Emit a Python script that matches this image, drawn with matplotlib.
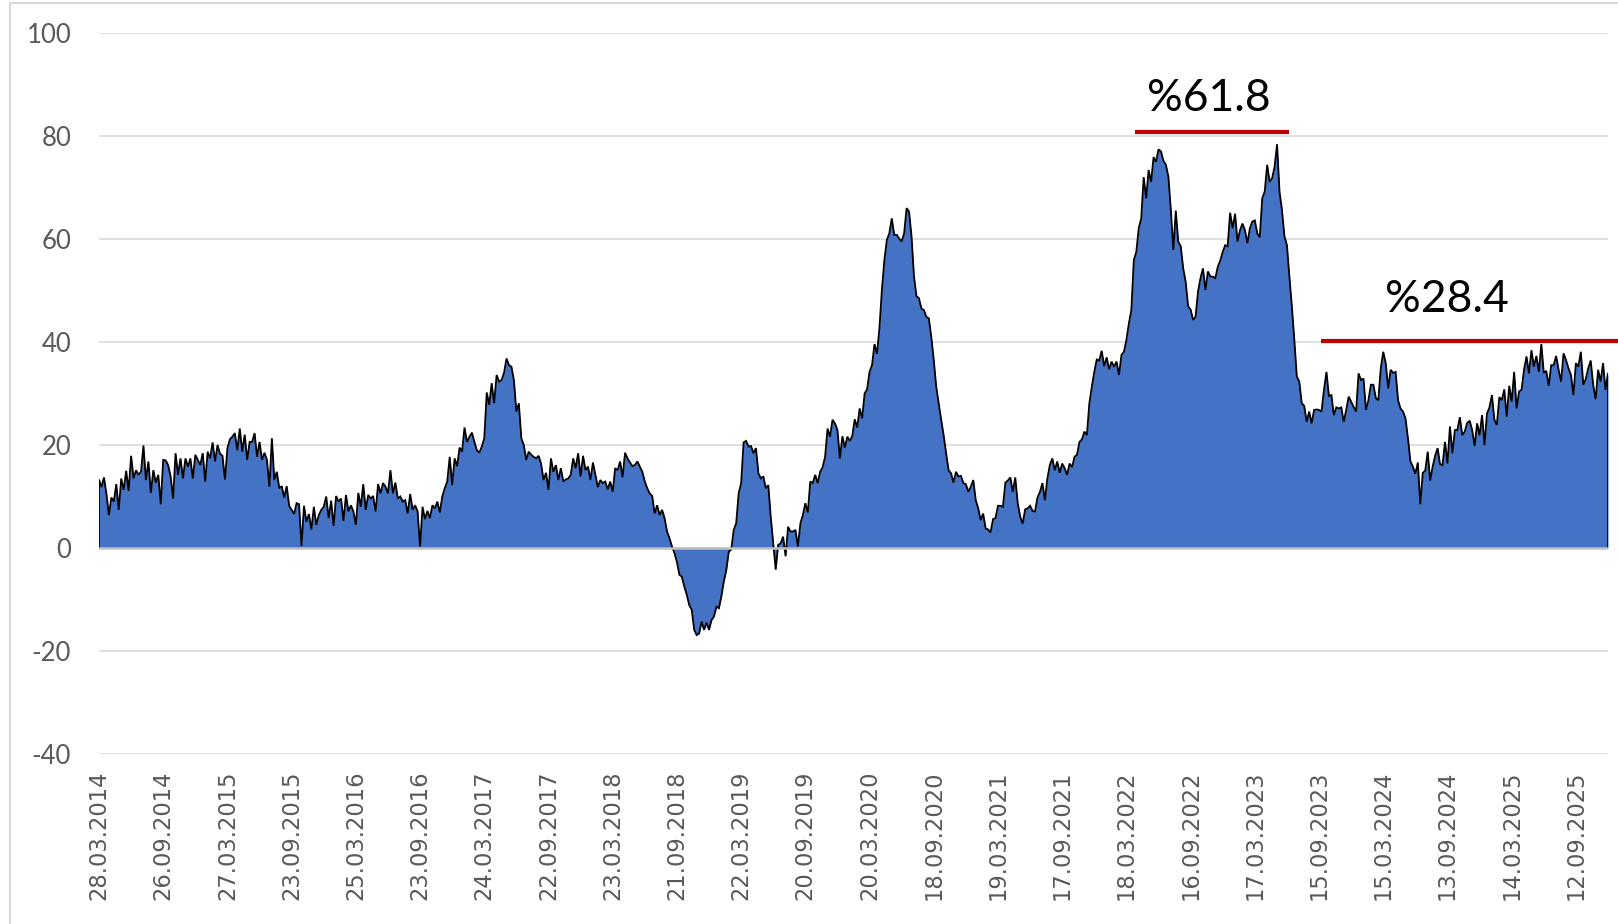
import matplotlib
matplotlib.use("Agg")
import matplotlib.pyplot as plt
import matplotlib.patches as mpatches
import numpy as np

plt.rcParams["axes.unicode_minus"] = False

# ---- data (weekly values) ----
vals_2014_15 = [13.3, 11.8, 13.7, 10.6, 6.4, 9.8, 9.0, 12.4, 7.4, 13.5, 11.3, 15.0, 11.1, 17.9, 13.5, 15.1,
                14.2, 14.8, 19.9, 13.2, 16.8, 10.7, 15.1, 12.7, 14.2, 8.5, 17.1, 17.0, 16.1, 13.9, 9.6, 18.4,
                14.2, 17.4, 13.5, 17.4, 15.8, 17.4, 13.5, 18.1, 17.1, 16.1, 18.4, 12.9, 18.7, 17.4, 20.5, 16.8,
                20.0, 18.3, 17.9, 13.3, 19.4, 21.1, 21.6, 22.3, 19.0, 23.2, 18.7, 22.0, 17.1, 20.6, 20.6, 22.3,
                17.7, 20.6, 17.1, 18.5, 17.1, 11.9, 21.3, 13.2, 14.8, 11.6, 12.0, 9.8, 12.0, 8.2, 7.4, 6.6,
                8.7, 8.5, 0.4, 8.2, 5.1, 6.6, 3.6, 8.0]
vals_2015_17 = [4.5, 6.4, 7.4, 8.0, 10.0, 5.8, 9.2, 4.3, 10.1, 9.0, 9.6, 5.3, 10.3, 7.1, 8.3, 7.1,
                4.5, 10.7, 8.0, 12.4, 7.4, 10.3, 9.6, 10.1, 7.1, 12.4, 10.6, 12.6, 11.9, 10.6, 15.1, 10.6,
                12.7, 9.6, 10.0, 9.0, 9.3, 6.7, 10.5, 7.4, 8.3, 7.1, 0.3, 8.0, 5.6, 7.2, 5.8, 8.3,
                7.7, 9.0, 6.9, 10.0, 11.6, 12.9, 17.7, 12.2, 17.4, 15.9, 19.5, 18.7, 23.4, 20.6, 21.6, 22.4,
                20.6, 19.0, 18.5, 19.7, 21.3, 30.2, 27.8, 32.0, 28.1, 33.6, 32.3, 32.6, 34.0, 36.8, 35.5, 35.2,
                32.6, 26.5, 28.1, 21.3, 20.0, 17.1, 18.7]
vals_2017_19 = [18.1, 17.7, 17.4, 17.9, 16.4, 13.2, 14.6, 11.3, 17.4, 14.8, 16.1, 13.2, 15.5, 12.9, 13.3, 13.5,
                14.2, 17.4, 15.5, 18.4, 13.9, 17.9, 15.1, 15.8, 13.2, 16.6, 14.2, 11.8, 13.2, 12.6, 12.9, 11.4,
                12.9, 10.9, 15.5, 15.1, 16.8, 13.7, 18.5, 17.4, 16.6, 15.9, 16.1, 16.8, 15.8, 14.8, 12.9, 11.6,
                10.6, 10.1, 6.7, 8.3, 6.4, 7.4, 5.8, 3.2, 1.9, 0.3, -1.0, -2.7, -5.2, -5.6, -7.5, -9.1,
                -11.1, -12.0, -15.9, -16.9, -16.6, -14.3, -15.9, -14.5, -15.9, -14.0, -13.3, -11.4, -11.7, -9.4, -6.5, -4.3,
                -0.7, -0.3, 3.5, 4.8, 10.6, 12.6]
vals_2019_21 = [20.5, 20.8, 19.7, 19.8, 18.4, 19.4, 14.5, 13.5, 13.9, 11.6, 12.2, 6.0, 1.0, -4.2, 0.6, 0.9,
                2.2, -1.6, 4.1, 3.2, 3.2, 3.5, 0.3, 4.8, 6.4, 8.7, 6.9, 12.9, 12.6, 14.2, 12.6, 14.8,
                15.7, 17.7, 23.2, 21.6, 24.9, 24.2, 22.9, 17.4, 21.7, 19.5, 21.6, 20.8, 21.7, 25.0, 23.4, 27.1,
                25.2, 30.0, 30.8, 34.2, 35.5, 39.6, 37.7, 42.7, 50.1, 55.9, 59.8, 61.1, 64.0, 60.8, 60.8, 60.1,
                59.5, 61.1, 66.0, 65.3, 60.5, 52.7, 48.9, 48.5, 46.5, 46.2, 44.9, 44.6, 41.0, 36.5, 31.3, 28.1,
                24.9, 21.9, 18.4, 15.1, 14.5, 12.7, 14.8, 13.9, 14.0, 12.6]
vals_2021_22 = [12.4, 10.9, 11.9, 13.2, 9.3, 7.7, 5.4, 6.7, 3.8, 3.6, 3.0, 5.6, 5.8, 8.2, 8.2, 8.0,
                12.7, 13.1, 13.7, 10.9, 13.7, 8.7, 6.1, 4.7, 7.5, 7.7, 8.2, 7.2, 7.1, 9.8, 10.9, 12.6,
                9.3, 13.5, 16.1, 17.4, 15.1, 16.8, 14.6, 16.4, 15.5, 14.2, 16.4, 15.7, 17.7, 18.1, 20.6, 21.1,
                22.6, 21.9, 28.1, 31.3, 34.2, 36.6, 36.4, 38.3, 35.3, 37.0, 34.7, 36.2, 35.2, 36.2, 33.6, 37.5,
                38.1, 40.4, 43.6, 46.2, 55.9, 57.5, 62.1, 64.0, 72.0, 67.9, 73.4, 71.1, 75.9, 75.0, 77.4, 77.0,
                75.2, 74.4, 72.1, 65.6, 57.9, 65.5]
vals_2022_24 = [59.5, 58.6, 54.3, 51.7, 46.9, 46.3, 44.3, 44.9, 49.8, 52.4, 54.3, 50.1, 53.7, 52.7, 52.7, 52.4,
                54.6, 55.8, 57.5, 58.8, 58.6, 65.1, 62.1, 64.9, 59.5, 61.7, 63.0, 61.7, 59.2, 62.1, 63.4, 63.6,
                61.1, 60.3, 67.9, 69.2, 74.4, 71.1, 71.8, 74.0, 78.4, 69.2, 65.6, 60.5, 58.8, 52.7, 46.9, 40.4,
                33.3, 32.3, 28.1, 27.6, 24.5, 26.5, 24.2, 26.8, 26.9, 26.8, 26.5, 30.7, 34.2, 29.5, 29.7, 25.8,
                27.3, 27.1, 27.3, 24.5, 26.8, 29.4, 28.4, 27.4, 26.5, 33.9, 32.6, 32.9, 26.8, 28.7, 31.7, 31.7,
                29.1, 28.7, 34.9, 38.1, 35.9, 31.0, 34.6]
vals_2024_25 = [34.0, 34.2, 28.7, 27.1, 26.5, 25.2, 21.3, 16.8, 15.8, 14.4, 16.6, 8.5, 14.6, 15.0, 18.7, 13.1,
                15.8, 17.9, 19.4, 16.3, 16.1, 20.6, 16.4, 23.6, 18.4, 22.9, 22.9, 25.4, 21.9, 22.6, 24.3, 24.7,
                22.9, 19.8, 24.2, 21.9, 25.8, 20.0, 26.1, 27.3, 29.7, 24.9, 23.9, 29.3, 28.7, 30.8, 25.5, 31.5,
                28.4, 34.2, 27.1, 30.4, 30.7, 34.6, 37.2, 33.9, 38.4, 35.2, 37.3, 34.2, 39.6, 34.0, 34.4, 31.5,
                35.5, 35.5, 37.3, 34.6, 32.3, 37.8, 36.5, 34.9, 33.6, 29.7, 35.9, 35.2, 38.1, 31.7, 32.8, 34.9,
                36.4, 31.7, 28.9, 34.6, 32.3, 35.9, 30.7, 34.0]

tick_labels = ["28.03.2014", "26.09.2014", "27.03.2015", "23.09.2015", "25.03.2016", "23.09.2016",
               "24.03.2017", "22.09.2017", "23.03.2018", "21.09.2018", "22.03.2019", "20.09.2019",
               "20.03.2020", "18.09.2020", "19.03.2021", "17.09.2021", "18.03.2022", "16.09.2022",
               "17.03.2023", "15.09.2023", "15.03.2024", "13.09.2024", "14.03.2025", "12.09.2025"]
label_step = 26  # one label every 26 weekly categories

annot_labels = ["%61.8", "%28.4"]

values = np.array(vals_2014_15 + vals_2015_17 + vals_2017_19 + vals_2019_21
                  + vals_2021_22 + vals_2022_24 + vals_2024_25)
n = len(values)
x = np.arange(n)

# ---- figure ----
W, H = 1618, 924
fig = plt.figure(figsize=(W / 100, H / 100), dpi=100)
ax = fig.add_axes([99 / W, 1 - 754 / H, (1608 - 99) / W, (754 - 33) / H])

ax.set_xlim(0, n - 1)
ax.set_ylim(-40, 100)

ax.fill_between(x, 0, values, color="#4472C4", linewidth=0, zorder=2)
xo = np.concatenate([[0], x, [n - 1]])
yo = np.concatenate([[0], values, [0]])
ax.plot(xo, yo, color="black", linewidth=1.3, zorder=3, solid_joinstyle="miter")

ax.axhline(0, color="#BFBFBF", linewidth=1.8, zorder=4)

ax.set_yticks(np.arange(-40, 101, 20))
ax.yaxis.grid(True, color="#D9D9D9", linewidth=1.2, zorder=0)
ax.set_axisbelow(True)
for s in ax.spines.values():
    s.set_visible(False)

ax.set_xticks(np.arange(0, len(tick_labels) * label_step, label_step))
ax.set_xticklabels(tick_labels, rotation=90, fontfamily="DejaVu Sans", fontsize=16.3,
                   color="#595959", va="top", ha="center")
ax.tick_params(axis="x", length=0, pad=12)
ax.tick_params(axis="y", length=0, pad=20, labelcolor="#595959")
for t in ax.get_yticklabels():
    t.set_fontfamily("Lato")
    t.set_fontsize(18.5)

# red reference lines and annotations
ax.plot([419.5, 481.8], [80.8, 80.8], color="#C00000", linewidth=3, zorder=5, solid_capstyle="butt")
ax.plot([494.8, 620], [40.1, 40.1], color="#C00000", linewidth=3, zorder=5,
        solid_capstyle="butt", clip_on=False)
ax.text(449.5, 84.8, annot_labels[0], fontfamily="Lato", fontsize=32, color="black",
        ha="center", va="baseline", zorder=6)
ax.text(545.8, 45.9, annot_labels[1], fontfamily="Lato", fontsize=32, color="black",
        ha="center", va="baseline", zorder=6)

# outer chart border
fig.patches.append(mpatches.Rectangle((9.5 / W, -0.05), 1.2, 1.05 - 2.5 / H,
                                      transform=fig.transFigure, fill=False,
                                      edgecolor="#D9D9D9", linewidth=1.5))

fig.savefig("out.png", dpi=100, facecolor="white")
